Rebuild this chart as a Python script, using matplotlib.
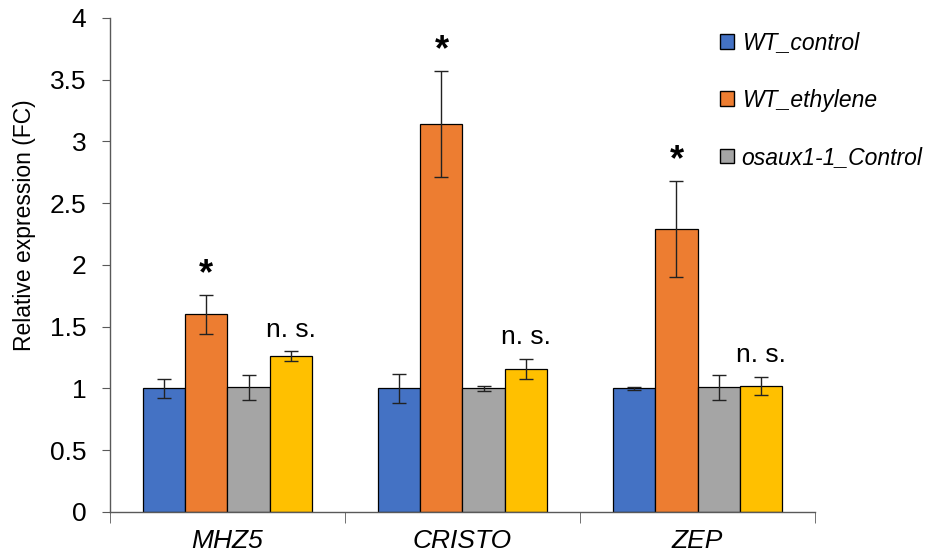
import numpy as np
import matplotlib
matplotlib.use("Agg")
import matplotlib.pyplot as plt

plt.rcParams['font.family'] = ['Liberation Sans', 'DejaVu Sans']

genes = ['MHZ5', 'CRISTO', 'ZEP']
series = ['WT_control', 'WT_ethylene', 'osaux1-1_Control', 'osaux1-1_ethylene']
colors = ['#4472C4', '#ED7D31', '#A5A5A5', '#FFC000']

wt_control = [1.00, 1.00, 1.00]
wt_ethylene = [1.60, 3.14, 2.29]
aux_control = [1.01, 1.00, 1.01]
aux_ethylene = [1.26, 1.16, 1.02]

wt_control_err = [0.08, 0.12, 0.01]
wt_ethylene_err = [0.16, 0.43, 0.39]
aux_control_err = [0.10, 0.02, 0.10]
aux_ethylene_err = [0.04, 0.08, 0.07]

# significance marks above the ethylene bars (index 1) and osaux1-1 ethylene bars (index 3)
star_labels = ['*', '*', '*']
ns_labels = ['n. s.', 'n. s.', 'n. s.']

values = [wt_control, wt_ethylene, aux_control, aux_ethylene]
errors = [wt_control_err, wt_ethylene_err, aux_control_err, aux_ethylene_err]

fig = plt.figure(figsize=(9.35, 5.57), dpi=100)
ax = fig.add_axes([0.1176, 0.0808, 0.7541, 0.887])

x = np.arange(len(genes))
w = 0.179
bars = []
for i in range(4):
    pos = x + (i - 1.5) * w
    b = ax.bar(pos, values[i], w, color=colors[i], edgecolor='black', linewidth=0.9,
               yerr=errors[i], capsize=5, error_kw=dict(elinewidth=1, capthick=1, ecolor='#222222'),
               label=series[i], zorder=2)
    bars.append(b)

for j in range(len(genes)):
    top = wt_ethylene[j] + wt_ethylene_err[j]
    ax.text(x[j] - 0.5 * w, top + 0.02, star_labels[j], ha='center', va='bottom',
            fontsize=26, fontweight='bold')
    top = aux_ethylene[j] + aux_ethylene_err[j]
    ax.text(x[j] + 1.5 * w, top + 0.08, ns_labels[j], ha='center', va='bottom', fontsize=19)

ax.set_xlim(-0.5, 2.5)
ax.set_ylim(0, 4)
ax.set_yticks(np.arange(0, 4.01, 0.5))
ax.set_yticklabels(['0', '0.5', '1', '1.5', '2', '2.5', '3', '3.5', '4'], fontsize=19)
ax.set_xticks(x)
ax.set_xticklabels(genes, fontsize=19, style='italic')
ax.set_xticks([-0.5, 0.5, 1.5, 2.5], minor=True)
ax.tick_params(axis='x', which='major', length=0, pad=12)
ax.tick_params(axis='x', which='minor', length=8, color='#595959')
ax.tick_params(axis='y', length=6, color='#595959', pad=11)
ax.set_ylabel('Relative expression (FC)', fontsize=16.5)
ax.yaxis.set_label_coords(-0.105, 0.58)

for s in ['top', 'right']:
    ax.spines[s].set_visible(False)
for s in ['left', 'bottom']:
    ax.spines[s].set_color('#595959')
    ax.spines[s].set_linewidth(1)

leg = fig.legend(handles=bars[:3], labels=series[:3], loc='upper left',
                 bbox_to_anchor=(0.76, 0.96), frameon=False, prop=dict(size=16.5, style='italic'),
                 handlelength=0.6, handleheight=0.6, handletextpad=0.35, labelspacing=1.5,
                 borderaxespad=0)
for h in leg.legend_handles:
    h.set_linewidth(1)

fig.savefig('out.png', dpi=100)
